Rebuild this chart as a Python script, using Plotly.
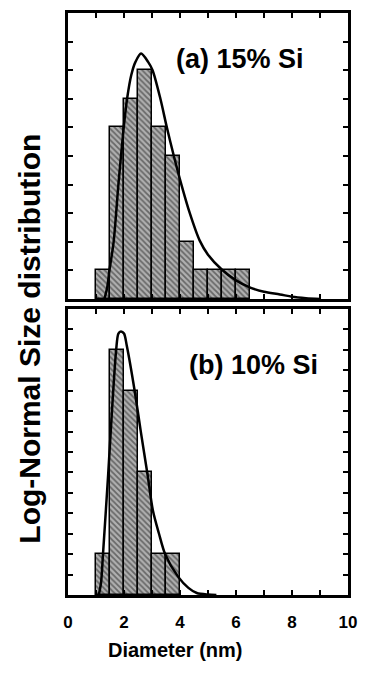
import plotly.graph_objects as go
from plotly.subplots import make_subplots

# ---- data ----
a_bin_centers = [1.25, 1.75, 2.25, 2.75, 3.25, 3.75, 4.25, 4.75, 5.25, 5.75, 6.25]
a_counts = [1, 6, 7, 8, 6, 5, 2, 1, 1, 1, 1]
b_bin_centers = [1.25, 1.75, 2.25, 2.75, 3.25, 3.75]
b_counts = [2, 12, 10, 6, 2, 2]
bin_width = 0.5

a_fit_x = [1.30, 1.40, 1.48, 1.63, 1.80, 1.99, 2.11, 2.26, 2.41, 2.61, 2.86, 3.02, 3.30,
           3.53, 3.78, 4.05, 4.35, 4.70, 5.00, 5.49, 6.00, 6.53, 7.00, 7.57, 8.00, 8.50, 9.00]
a_fit_y = [0.0, 0.4, 1.0, 2.0, 4.0, 6.0, 7.0, 7.83, 8.29, 8.58, 8.29, 8.0, 7.0,
           6.0, 5.0, 4.0, 3.0, 2.05, 1.55, 1.03, 0.65, 0.39, 0.25, 0.16, 0.08, 0.03, 0.0]

b_fit_x = [1.10, 1.18, 1.25, 1.43, 1.57, 1.72, 1.80, 1.89, 2.00, 2.10, 2.38, 2.60, 2.84,
           3.03, 3.25, 3.47, 3.93, 4.30, 4.60, 5.00, 5.30]
b_fit_y = [0.0, 0.6, 2.0, 5.8, 9.0, 12.0, 12.8, 12.9, 12.8, 12.2, 10.0, 8.0, 5.9,
           4.15, 3.0, 2.0, 0.9, 0.35, 0.1, 0.02, 0.0]

x_ticks = [0, 2, 4, 6, 8, 10]
label_a = "(a) 15% Si"
label_b = "(b) 10% Si"
x_title = "Diameter (nm)"
y_title = "Log-Normal Size distribution"

FONT = "Liberation Sans"

fig = make_subplots(rows=2, cols=1, shared_xaxes=False, vertical_spacing=0.0172)

pattern = dict(shape="\\", bgcolor="#b0b0b0", fgcolor="#1e1e1e", size=4, solidity=0.45)

fig.add_trace(go.Bar(x=a_bin_centers, y=a_counts, width=bin_width,
                     marker=dict(color="#b0b0b0", pattern=pattern,
                                 line=dict(color="black", width=1.5)),
                     showlegend=False, hoverinfo="skip"), row=1, col=1)
fig.add_trace(go.Scatter(x=a_fit_x, y=a_fit_y, mode="lines",
                         line=dict(color="black", width=2.5, shape="spline", smoothing=0.8),
                         showlegend=False, hoverinfo="skip"), row=1, col=1)
fig.add_trace(go.Bar(x=b_bin_centers, y=b_counts, width=bin_width,
                     marker=dict(color="#b0b0b0", pattern=pattern,
                                 line=dict(color="black", width=1.5)),
                     showlegend=False, hoverinfo="skip"), row=2, col=1)
fig.add_trace(go.Scatter(x=b_fit_x, y=b_fit_y, mode="lines",
                         line=dict(color="black", width=2.5, shape="spline", smoothing=0.8),
                         showlegend=False, hoverinfo="skip"), row=2, col=1)

axis_common = dict(showline=True, linecolor="black", linewidth=2.5, mirror="ticks",
                   ticks="inside", ticklen=5, tickwidth=2, tickcolor="black",
                   showgrid=False, zeroline=False)

fig.update_xaxes(range=[0, 10], dtick=1, showticklabels=False, **axis_common, row=1, col=1)
fig.update_xaxes(range=[0, 10], tickmode="array", tickvals=list(range(0, 11)),
                 ticktext=[str(v) if v in x_ticks else "" for v in range(0, 11)],
                 tickfont=dict(family=FONT, size=17, color="black", weight="bold"),
                 ticklabelstandoff=10, **axis_common, row=2, col=1)
fig.update_yaxes(range=[0, 10], dtick=1, showticklabels=False, **axis_common, row=1, col=1)
fig.update_yaxes(range=[0, 14], dtick=1, showticklabels=False, **axis_common, row=2, col=1)

fig.update_layout(
    width=367, height=681,
    margin=dict(l=68, r=10, t=11, b=86),
    paper_bgcolor="white", plot_bgcolor="white",
    bargap=0,
    font=dict(family=FONT, color="black"),
)
fig.update_layout(yaxis=dict(domain=[0.5086, 1.0]), yaxis2=dict(domain=[0.0, 0.4914]))

fig.add_annotation(x=6.14, y=8.4, xref="x", yref="y", text=label_a, showarrow=False,
                   xanchor="center", yanchor="middle",
                   font=dict(family=FONT, size=27, color="black", weight="bold"))
fig.add_annotation(x=6.63, y=11.27, xref="x2", yref="y2", text=label_b, showarrow=False,
                   xanchor="center", yanchor="middle",
                   font=dict(family=FONT, size=27, color="black", weight="bold"))
fig.add_annotation(x=-0.138, y=0.441, xref="paper", yref="paper", text=y_title,
                   textangle=-90, showarrow=False, xanchor="center", yanchor="middle",
                   font=dict(family=FONT, size=30, color="black", weight="bold"))
fig.add_annotation(x=0.381, y=-0.094, xref="paper", yref="paper", text=x_title,
                   showarrow=False, xanchor="center", yanchor="middle",
                   font=dict(family=FONT, size=20, color="black", weight="bold"))

fig.write_html("out.html", config={"displayModeBar": False},
               post_script="document.body.style.margin='0';document.body.style.overflow='hidden';")
